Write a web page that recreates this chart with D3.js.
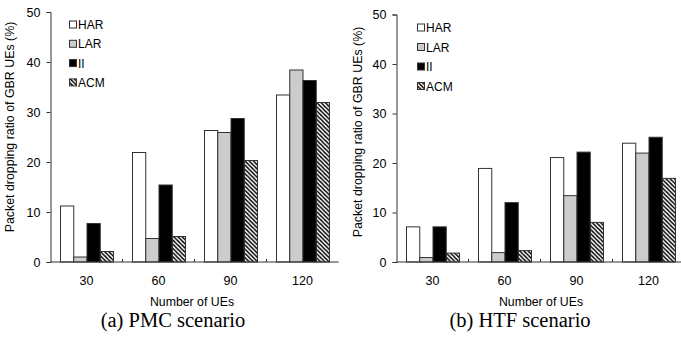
<!DOCTYPE html>
<html>
<head>
<meta charset="utf-8">
<script src="https://cdn.jsdelivr.net/npm/d3@7"></script>
<style>
  body { margin: 0; background: #fff; }
  svg { display: block; }
  text { font-family: Arial, "Liberation Sans", sans-serif; fill: #000; }
</style>
</head>
<body>
<svg id="chart" width="681" height="343"></svg>
<script>
// data
var categories = ["30", "60", "90", "120"];
var seriesNames = ["HAR", "LAR", "II", "ACM"];
var yTicks = [0, 10, 20, 30, 40, 50];

var pmcHAR = [11.2, 21.9, 26.3, 33.4];
var pmcLAR = [1.0, 4.7, 25.9, 38.4];
var pmcII  = [7.7, 15.4, 28.7, 36.3];
var pmcACM = [2.1, 5.1, 20.3, 31.9];

var htfHAR = [7.1, 18.9, 21.1, 24.0];
var htfLAR = [0.9, 1.9, 13.4, 22.0];
var htfII  = [7.1, 12.0, 22.2, 25.2];
var htfACM = [1.8, 2.3, 8.0, 16.9];

var svg = d3.select("#chart");

// hatch pattern for ACM
var defs = svg.append("defs");
defs.append("pattern")
    .attr("id", "hatch")
    .attr("patternUnits", "userSpaceOnUse")
    .attr("width", 4.2)
    .attr("height", 4.2)
  .append("path")
    .attr("d", "M-1,-1L5.2,5.2M-1,3.2L1,5.2M3.2,-1L5.2,1")
    .attr("stroke", "#000")
    .attr("stroke-width", 1.4);

var fills = ["#ffffff", "#cccccc", "#000000", "url(#hatch)"];

function drawPanel(opt) {
  var g = svg.append("g");
  var x = d3.scaleBand().domain(categories).range([opt.left, opt.right]);
  var y = d3.scaleLinear().domain([0, 50]).range([262, opt.top]);
  var inner = d3.scaleBand().domain(seriesNames)
      .range([10, x.bandwidth() - 9]);

  var rows = [];
  categories.forEach(function(c, i) {
    seriesNames.forEach(function(s, j) {
      rows.push({cat: c, series: s, idx: j, value: opt.values[j][i]});
    });
  });

  g.selectAll("rect.bar")
    .data(rows)
    .enter().append("rect")
    .attr("class", "bar")
    .attr("x", function(d) { return x(d.cat) + inner(d.series); })
    .attr("width", inner.bandwidth())
    .attr("y", function(d) { return y(d.value); })
    .attr("height", function(d) { return y(0) - y(d.value); })
    .attr("fill", function(d) { return fills[d.idx]; })
    .attr("stroke", "#333")
    .attr("stroke-width", 1);

  // y axis
  var yAxis = g.append("g")
    .attr("transform", "translate(" + opt.left + ",0)")
    .call(d3.axisLeft(y).tickValues(yTicks).tickSize(4).tickPadding(6));
  yAxis.attr("font-family", null);
  yAxis.select(".domain").attr("stroke", "#333");
  yAxis.selectAll(".tick line").attr("stroke", "#333");
  yAxis.selectAll(".tick text")
    .attr("font-size", "12.5px");

  // x axis line with inner ticks between groups
  g.append("line")
    .attr("x1", opt.left).attr("x2", opt.right)
    .attr("y1", y(0)).attr("y2", y(0))
    .attr("stroke", "#333");
  g.selectAll("line.sep")
    .data(categories.slice(1))
    .enter().append("line")
    .attr("class", "sep")
    .attr("x1", function(d) { return x(d); })
    .attr("x2", function(d) { return x(d); })
    .attr("y1", y(0)).attr("y2", y(0) - 3)
    .attr("stroke", "#333");

  g.selectAll("text.xl")
    .data(categories)
    .enter().append("text")
    .attr("class", "xl")
    .attr("x", function(d) { return x(d) + x.bandwidth() / 2; })
    .attr("y", 285)
    .attr("text-anchor", "middle")
    .attr("font-size", "12.5px")
    .text(function(d) { return d; });

  // titles
  g.append("text")
    .attr("transform", "translate(" + opt.ytx + "," + opt.yty + ") rotate(-90)")
    .attr("text-anchor", "middle")
    .attr("font-size", "12.4px")
    .text("Packet dropping ratio of GBR UEs (%)");

  g.append("text")
    .attr("x", opt.xtx)
    .attr("y", 306)
    .attr("text-anchor", "middle")
    .attr("font-size", "12.3px")
    .text("Number of UEs");

  g.append("text")
    .attr("x", opt.capx)
    .attr("y", 327)
    .attr("text-anchor", "middle")
    .attr("font-size", "20.5px")
    .style("font-family", "'Times New Roman', 'Liberation Serif', serif")
    .text(opt.caption);

  // legend
  var leg = g.selectAll("g.leg")
    .data(seriesNames)
    .enter().append("g")
    .attr("class", "leg")
    .attr("transform", function(d, i) {
      return "translate(" + opt.legx + "," + (opt.legy + i * opt.legstep) + ")";
    });
  leg.append("rect")
    .attr("x", 0).attr("y", -3.5)
    .attr("width", 7).attr("height", 7)
    .attr("fill", function(d, i) { return fills[i]; })
    .attr("stroke", "#333");
  leg.append("text")
    .attr("x", 8.5)
    .attr("y", 4.5)
    .attr("font-size", "12px")
    .text(function(d) { return d; });
}

drawPanel({
  left: 50.5, right: 338.5, top: 12,
  values: [pmcHAR, pmcLAR, pmcII, pmcACM],
  ytx: 14, yty: 127, xtx: 192, capx: 173,
  caption: "(a) PMC scenario",
  legx: 69.5, legy: 24.5, legstep: 19.3
});

drawPanel({
  left: 396.5, right: 684.5, top: 14.5,
  values: [htfHAR, htfLAR, htfII, htfACM],
  ytx: 362, yty: 132, xtx: 541, capx: 520,
  caption: "(b) HTF scenario",
  legx: 417.5, legy: 27.5, legstep: 19.5
});
</script>
</body>
</html>
